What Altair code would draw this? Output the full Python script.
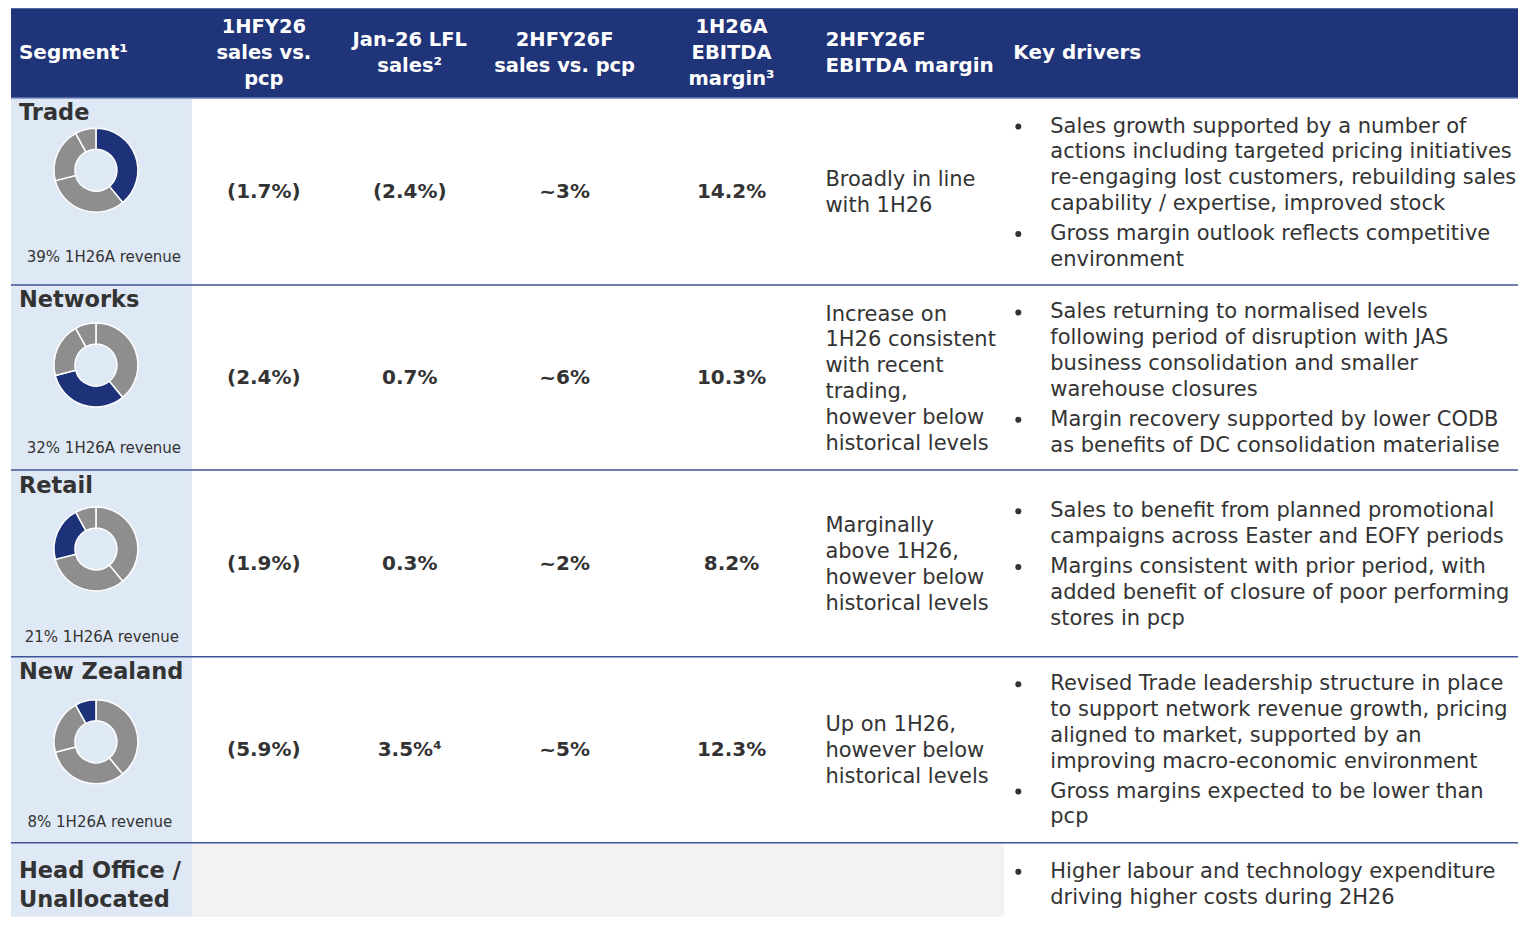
import altair as alt
import pandas as pd

# ---------------- data ----------------
segments = ["Trade", "Networks", "Retail", "New Zealand"]
revenue_share = [39, 32, 21, 8]
revenue_labels = ["39% 1H26A revenue", "32% 1H26A revenue", "21% 1H26A revenue", "8% 1H26A revenue"]
head_office = ["Head Office /", "Unallocated"]

headers = [
    ["Segment¹"],
    ["1HFY26", "sales vs.", "pcp"],
    ["Jan-26 LFL", "sales²"],
    ["2HFY26F", "sales vs. pcp"],
    ["1H26A", "EBITDA", "margin³"],
    ["2HFY26F", "EBITDA margin"],
    ["Key drivers"],
]

sales_1h = ["(1.7%)", "(2.4%)", "(1.9%)", "(5.9%)"]
jan_lfl = ["(2.4%)", "0.7%", "0.3%", "3.5%⁴"]
sales_2h = ["~3%", "~6%", "~2%", "~5%"]
ebitda_1h = ["14.2%", "10.3%", "8.2%", "12.3%"]

ebitda_2h = [
    ["Broadly in line", "with 1H26"],
    ["Increase on", "1H26 consistent", "with recent", "trading,", "however below", "historical levels"],
    ["Marginally", "above 1H26,", "however below", "historical levels"],
    ["Up on 1H26,", "however below", "historical levels"],
]

drivers = [
    [["Sales growth supported by a number of",
      "actions including targeted pricing initiatives",
      "re-engaging lost customers, rebuilding sales",
      "capability / expertise, improved stock"],
     ["Gross margin outlook reflects competitive", "environment"]],
    [["Sales returning to normalised levels",
      "following period of disruption with JAS",
      "business consolidation and smaller",
      "warehouse closures"],
     ["Margin recovery supported by lower CODB",
      "as benefits of DC consolidation materialise"]],
    [["Sales to benefit from planned promotional",
      "campaigns across Easter and EOFY periods"],
     ["Margins consistent with prior period, with",
      "added benefit of closure of poor performing",
      "stores in pcp"]],
    [["Revised Trade leadership structure in place",
      "to support network revenue growth, pricing",
      "aligned to market, supported by an",
      "improving macro-economic environment"],
     ["Gross margins expected to be lower than", "pcp"]],
    [["Higher labour and technology expenditure",
      "driving higher costs during 2H26"]],
]

# ---------------- layout (page-pixel coordinates) ----------------
FONT = "DejaVu Sans"
NAVY = "#1F3479"
DONUT_BLUE = "#1D3278"
GREY = "#8E8E8E"
TEXT = "#333333"

DOM_X = (8, 1519)
DOM_Y = (8, 917)
X0, X1 = 11, 1519
HEAD_TOP, HEAD_BOT = 8, 98
row_edges = [98, 285, 470, 657, 843, 917]
row_centers = [192, 378, 564, 750, 884]
col_split = [192, 1005]
header_cols = [(19, "left"), (264, "center"), (410, "center"), (565, "center"),
               (732, "center"), (826, "left"), (1014, "left")]
num_cols = [264, 410, 565, 732]
ebitda_x = 826
bullet_x, driver_x = 1019, 1051
LH = 25.8
BULLET_GAP = 30

title_y = [113, 300, 486, 672]
donut_y = [170, 365, 549, 742]
donut_x = 96
label_y = [257, 448, 637, 822]
label_x = [104, 104, 102, 100]

Xs = alt.Scale(domain=list(DOM_X), nice=False, zero=False)
Ys = alt.Scale(domain=list(DOM_Y), nice=False, zero=False, reverse=True)


def xe(f):
    return alt.X(f"{f}:Q", scale=Xs, axis=None)


def ye(f):
    return alt.Y(f"{f}:Q", scale=Ys, axis=None)


# rectangles
rects = pd.DataFrame([
    dict(x=X0, x2=X1, y=HEAD_TOP, y2=HEAD_BOT, c=NAVY),
    dict(x=X0, x2=col_split[0], y=row_edges[0], y2=row_edges[-1], c="#DFE9F5"),
    dict(x=col_split[0], x2=col_split[1], y=row_edges[4], y2=row_edges[5], c="#F2F2F2"),
])
rect_layer = alt.Chart(rects).mark_rect().encode(
    x=xe("x"), x2="x2", y=ye("y"), y2="y2", color=alt.Color("c:N", scale=None))

# separator lines
rules = pd.DataFrame([dict(x=X0, x2=X1, y=e, c="#3F5496") for e in row_edges[1:5]] +
                     [dict(x=X0, x2=X1, y=HEAD_BOT, c="#8FA2D0")])
rule_layer = alt.Chart(rules).mark_rule(strokeWidth=1.5).encode(
    x=xe("x"), x2="x2", y=ye("y"), color=alt.Color("c:N", scale=None))

# donuts
arcs = []
total = sum(revenue_share)
TWO_PI = 2 * 3.141592653589793
for r, seg in enumerate(segments):
    cum = 0
    for name, v in zip(segments, revenue_share):
        t0 = cum / total * TWO_PI
        cum += v
        t1 = cum / total * TWO_PI
        arcs.append(dict(row=seg, seg=name, t0=t0, t1=t1, x=donut_x, y=donut_y[r],
                         c=DONUT_BLUE if name == seg else GREY))
arc_layer = alt.Chart(pd.DataFrame(arcs)).mark_arc(
    innerRadius=21, outerRadius=42, stroke="white", strokeWidth=1.5).encode(
    x=xe("x"), y=ye("y"),
    theta=alt.Theta("t0:Q", scale=None), theta2="t1:Q",
    color=alt.Color("c:N", scale=None))


def text_layer(rows, size, weight, color, align):
    return alt.Chart(pd.DataFrame(rows)).mark_text(
        align=align, baseline="middle", fontSize=size, fontWeight=weight,
        color=color, font=FONT).encode(x=xe("x"), y=ye("y"), text="text:N")


# header texts
head_rows = {"left": [], "center": []}
hc = 53
for lines, (x, al) in zip(headers, header_cols):
    n = len(lines)
    for i, t in enumerate(lines):
        head_rows[al].append(dict(x=x, y=hc + (i - (n - 1) / 2) * 26, text=t))

# segment titles
title_rows = [dict(x=19, y=title_y[i], text=s) for i, s in enumerate(segments)]
title_rows += [dict(x=19, y=871 + i * 29, text=t) for i, t in enumerate(head_office)]

label_rows = [dict(x=label_x[i], y=label_y[i], text=t) for i, t in enumerate(revenue_labels)]

# numbers
num_rows = []
for r in range(4):
    yc = row_centers[r]
    for x, col in zip(num_cols, [sales_1h, jan_lfl, sales_2h, ebitda_1h]):
        num_rows.append(dict(x=x, y=yc, text=col[r]))

# body text
body_rows = []
for r, lines in enumerate(ebitda_2h):
    yc = row_centers[r] + 1
    n = len(lines)
    for i, t in enumerate(lines):
        body_rows.append(dict(x=ebitda_x, y=yc + (i - (n - 1) / 2) * LH, text=t))

bullet_rows = []
for r, items in enumerate(drivers):
    yc = row_centers[r] + 1
    nlines = sum(len(it) for it in items)
    height = (nlines - len(items)) * LH + (len(items) - 1) * BULLET_GAP
    y = yc - height / 2
    for k, it in enumerate(items):
        if k > 0:
            y += BULLET_GAP
        bullet_rows.append(dict(x=bullet_x, y=y))
        for i, t in enumerate(it):
            if i > 0:
                y += LH
            body_rows.append(dict(x=driver_x, y=y, text=t))

bullet_layer = alt.Chart(pd.DataFrame(bullet_rows)).mark_circle(
    size=36, color=TEXT, opacity=1).encode(x=xe("x"), y=ye("y"))

chart = alt.layer(
    rect_layer,
    rule_layer,
    arc_layer,
    text_layer(head_rows["left"], 20, "bold", "white", "left"),
    text_layer(head_rows["center"], 19.5, "bold", "white", "center"),
    text_layer(title_rows, 22.5, "bold", TEXT, "left"),
    text_layer(label_rows, 15, "normal", TEXT, "center"),
    text_layer(num_rows, 20, "bold", TEXT, "center"),
    text_layer(body_rows, 21, "normal", TEXT, "left"),
    bullet_layer,
).properties(width=1511, height=909, padding=0).configure_view(stroke=None)

chart.save("out.html", embed_options={"renderer": "svg", "actions": False})
